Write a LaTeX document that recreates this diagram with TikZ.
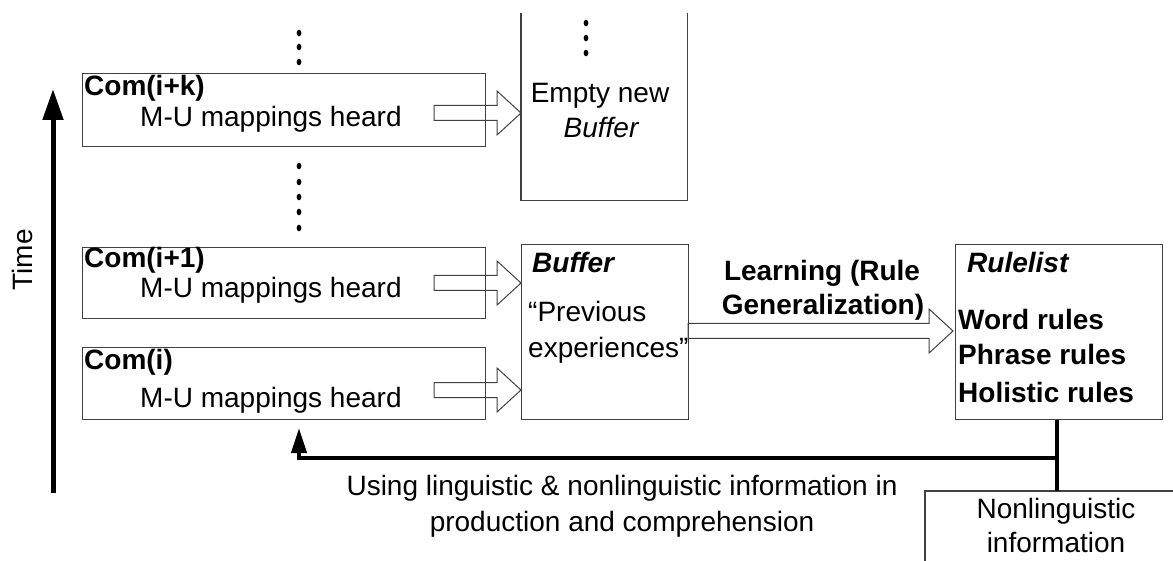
\documentclass[tikz,border=0pt]{standalone}
\usepackage{fontspec}
\setmainfont{Liberation Sans}
\usetikzlibrary{arrows.meta,calc}
\definecolor{boxgray}{HTML}{404040}
\newcommand{\hollowarr}[2]{%
  \draw[harrow] let \p1=#1, \p2=#2 in
    (\x1,\y1+7.5pt) -- (\x2-24pt,\y1+7.5pt) -- (\x2-24pt,\y1+22pt) -- (\x2,\y1)
    -- (\x2-24pt,\y1-22pt) -- (\x2-24pt,\y1-7.5pt) -- (\x1,\y1-7.5pt) -- cycle;}
\newcommand{\vdot}[2]{\fill (#1,#2) ellipse [x radius=2.4pt, y radius=3.3pt];}
\begin{document}
\begin{tikzpicture}[x=1pt,y=-1pt,
  box/.style={draw=boxgray, line width=1.2pt, anchor=north west, inner sep=0pt},
  ghost/.style={anchor=north west, inner sep=0pt},
  txt/.style={anchor=base west, inner sep=0pt, font=\fontsize{28}{32}\selectfont},
  ctxt/.style={anchor=base, inner sep=0pt, font=\fontsize{28}{32}\selectfont},
  btxt/.style={txt, font=\fontsize{28}{32}\selectfont\bfseries},
  bitxt/.style={txt, font=\fontsize{28}{32}\selectfont\bfseries\itshape},
  harrow/.style={draw=boxgray, line width=1pt, line join=miter},
  thickline/.style={line width=4pt},
]
\useasboundingbox (0,0) rectangle (1173,561);

% Time axis
\coordinate (tbot) at (53,493);
\coordinate (ttop) at (53,89);
\draw[line width=5pt, -{Triangle[length=31pt,width=20pt]}] (tbot) -- (ttop);
\node[rotate=90, inner sep=0pt, font=\fontsize{28}{32}\selectfont] (time) at (22,260) {Time};

% Com boxes
\node[box, minimum width=403pt, minimum height=73pt] (cik) at (82,73) {};
\node[btxt] (cikt) at (84,96) {Com(i+k)};
\node[txt] (cikm) at (140,127) {M-U mappings heard};

\node[box, minimum width=403pt, minimum height=71pt] (ci1) at (82,247) {};
\node[btxt] (ci1t) at (84,268) {Com(i+1)};
\node[txt] (ci1m) at (140,298) {M-U mappings heard};

\node[box, minimum width=403pt, minimum height=72pt] (ci0) at (82,347) {};
\node[btxt] (ci0t) at (84,370) {Com(i)};
\node[txt] (ci0m) at (140,407) {M-U mappings heard};

% dots
\vdot{299}{33}\vdot{299}{47}\vdot{299}{62}
\vdot{299}{166}\vdot{299}{182}\vdot{299}{197}\vdot{299}{212}\vdot{299}{228}
\vdot{586}{23}\vdot{586}{38}\vdot{586}{53}

% Empty new buffer (open top)
\node[ghost, minimum width=166pt, minimum height=187pt] (eb) at (521,13) {};
\draw[draw=boxgray, line width=1.2pt] (eb.north west) -- (eb.south west) -- (eb.south east) -- (eb.north east);
\node[ctxt] (ebt1) at (600,103) {Empty new};
\node[ctxt, font=\fontsize{28}{32}\selectfont\itshape] (ebt2) at (601,138) {Buffer};

% Buffer
\node[box, minimum width=167pt, minimum height=175pt] (buf) at (521,244) {};
\node[bitxt] (buft) at (532,273) {Buffer};
\node[txt] (bufp1) at (528,322) {“Previous};
\node[txt] (bufp2) at (528,357) {experiences”};

% Rulelist
\node[box, minimum width=207pt, minimum height=175pt] (rl) at (955,244) {};
\node[bitxt] (rlt) at (967,273) {Rulelist};
\node[btxt] (rlw) at (958,330) {Word rules};
\node[btxt] (rlp) at (958,365) {Phrase rules};
\node[btxt] (rlh) at (958,402) {Holistic rules};

% Learning label
\node[ctxt, font=\fontsize{28}{32}\selectfont\bfseries] (learn1) at (822,281) {Learning (Rule};
\node[ctxt, font=\fontsize{28}{32}\selectfont\bfseries] (learn2) at (823,315) {Generalization)};

% hollow arrows
\coordinate (a1s) at (434,113);
\coordinate (a2s) at (434,283);
\coordinate (a3s) at (434,390);
\coordinate (a4s) at (688,331);
\hollowarr{(a1s)}{(eb.west |- a1s)}
\hollowarr{(a2s)}{(buf.west |- a2s)}
\hollowarr{(a3s)}{(buf.west |- a3s)}
\hollowarr{(a4s)}{($(rl.west |- a4s)+(-2,0)$)}

% Nonlinguistic information (open box)
\coordinate (nltop) at (1057,491);
\draw[draw=boxgray, line width=1.2pt] (1173,491) -- (925,491) -- (925,561);
\node[ctxt] (nl1) at (1056,518) {Nonlinguistic};
\node[ctxt] (nl2) at (1056,552) {information};

% feedback connector
\coordinate (junc) at (1057,458);
\coordinate (fbtip) at (299,428);
\draw[thickline] (rl.south -| junc) -- (nltop);
\draw[thickline, -{Triangle[length=25pt,width=15pt]}] (junc) -- (fbtip |- junc) -- (fbtip);
\node[ctxt] (use1) at (622,495) {Using linguistic \& nonlinguistic information in};
\node[ctxt] (use2) at (622,531) {production and comprehension};
\end{tikzpicture}
\end{document}
